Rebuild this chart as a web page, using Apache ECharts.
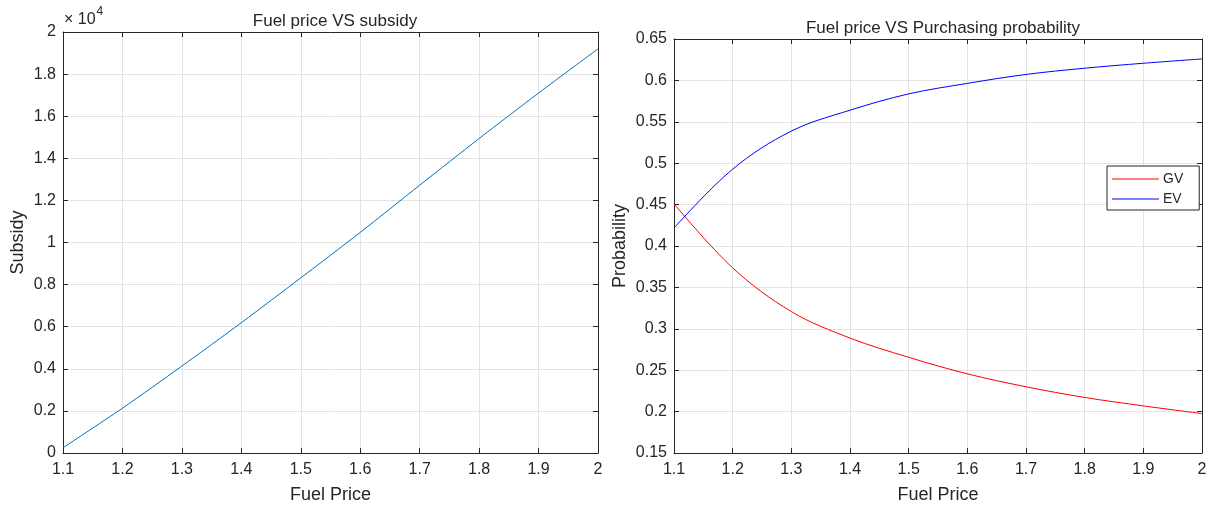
<!DOCTYPE html>
<html>
<head>
<meta charset="utf-8">
<script src="https://cdn.jsdelivr.net/npm/echarts@6/dist/echarts.min.js"></script>
<style>
    html, body {margin: 0; padding: 0; background: #fff;}
    #chart {width: 1210px; height: 509px;}
</style>
</head>
<body>
<div id="chart"></div>
<script>
// left panel: fuel price vs subsidy
const fuelPrice = [1.1, 1.2, 1.3, 1.4, 1.5, 1.6, 1.7, 1.8, 1.9, 2.0];
const subsidy = [250, 2130, 4130, 6190, 8320, 10480, 12720, 14940, 17100, 19200];

// right panel: fuel price vs purchasing probability
const gvProb = [0.451, 0.3736, 0.3208, 0.2888, 0.2656, 0.2456, 0.23, 0.2171, 0.2069, 0.1976];
const evProb = [0.4217, 0.4928, 0.5388, 0.564, 0.5837, 0.5964, 0.6072, 0.6147, 0.6207, 0.6259];

const font = 'Liberation Sans, Arial, sans-serif';
const ink = '#262626';
const pairs = (xs, ys) => xs.map((x, i) => [x, ys[i]]);
const trim = d => v => String(+v.toFixed(d));

const xAxisBase = (grid, pos) => ({
    type: 'value',
    gridIndex: grid,
    position: pos,
    min: 1.1,
    max: 2,
    interval: 0.1,
    axisLine: {show: true, onZero: false, lineStyle: {color: ink, width: 1}},
    axisTick: {show: true, inside: true, length: 5, lineStyle: {color: ink}},
    axisLabel: {show: pos === 'bottom', color: ink, fontFamily: font, fontSize: 16, margin: 9, formatter: trim(1)},
    splitLine: {show: pos === 'bottom', lineStyle: {color: '#e3e3e3', width: 1}},
    name: pos === 'bottom' ? 'Fuel Price' : '',
    nameLocation: 'middle',
    nameGap: 33,
    nameTextStyle: {color: ink, fontFamily: font, fontSize: 18},
});

const yAxisBase = (grid, pos, min, max, step, fmt, name, gap) => ({
    type: 'value',
    gridIndex: grid,
    position: pos,
    min: min,
    max: max,
    interval: step,
    axisLine: {show: true, onZero: false, lineStyle: {color: ink, width: 1}},
    axisTick: {show: true, inside: true, length: 5, lineStyle: {color: ink}},
    axisLabel: {show: pos === 'left', color: ink, fontFamily: font, fontSize: 16, margin: 7, formatter: fmt},
    splitLine: {show: pos === 'left', lineStyle: {color: '#e3e3e3', width: 1}},
    name: pos === 'left' ? name : '',
    nameLocation: 'middle',
    nameGap: gap,
    nameTextStyle: {color: ink, fontFamily: font, fontSize: 18},
});

const chart = echarts.init(document.getElementById('chart'), null, {renderer: 'canvas'});

chart.setOption({
    animation: false,
    backgroundColor: '#fff',
    color: ['#0072bd', '#ff0000', '#0000ff'],
    title: [
        {text: 'Fuel price VS subsidy', left: 330, top: 8, textAlign: 'center',
            textStyle: {color: ink, fontFamily: font, fontSize: 17, fontWeight: 'normal'}},
        {text: 'Fuel price VS Purchasing probability', left: 938, top: 15, textAlign: 'center',
            textStyle: {color: ink, fontFamily: font, fontSize: 17, fontWeight: 'normal'}},
    ],
    graphic: [{
        type: 'text',
        left: 64,
        top: 6,
        style: {
            text: '{a|× 10}{b|4}',
            rich: {
                a: {fontFamily: font, fontSize: 16, fill: ink, verticalAlign: 'bottom'},
                b: {fontFamily: font, fontSize: 12, fill: ink, verticalAlign: 'top', padding: [0, 0, 10, 1]},
            },
        },
    }],
    grid: [
        {left: 63, top: 32, width: 535, height: 422},
        {left: 674, top: 39, width: 528, height: 417},
    ],
    xAxis: [
        xAxisBase(0, 'bottom'),
        xAxisBase(0, 'top'),
        xAxisBase(1, 'bottom'),
        xAxisBase(1, 'top'),
    ],
    yAxis: [
        yAxisBase(0, 'left', 0, 20000, 2000, v => String(+(v / 10000).toFixed(1)), 'Subsidy', 36),
        yAxisBase(0, 'right', 0, 20000, 2000, null, '', 0),
        yAxisBase(1, 'left', 0.15, 0.65, 0.05, trim(2), 'Probability', 45),
        yAxisBase(1, 'right', 0.15, 0.65, 0.05, null, '', 0),
    ],
    legend: {
        data: [
            {name: 'GV', itemStyle: {color: '#ff0000'}},
            {name: 'EV', itemStyle: {color: '#0000ff'}},
        ],
        orient: 'vertical',
        left: 1107,
        top: 166,
        padding: [6, 16, 4, 5],
        itemGap: 6,
        itemWidth: 47,
        itemHeight: 1,
        icon: 'rect',
        borderColor: ink,
        borderWidth: 1,
        backgroundColor: '#fff',
        textStyle: {color: ink, fontFamily: font, fontSize: 14, padding: [0, 0, 0, -1]},
    },
    series: [
        {
            name: 'Subsidy',
            type: 'line',
            xAxisIndex: 0,
            yAxisIndex: 0,
            data: pairs(fuelPrice, subsidy),
            smooth: 0.3,
            showSymbol: false,
            lineStyle: {color: '#0072bd', width: 1},
            itemStyle: {color: '#0072bd'},
        },
        {
            name: 'GV',
            type: 'line',
            xAxisIndex: 2,
            yAxisIndex: 2,
            data: pairs(fuelPrice, gvProb),
            smooth: 0.35,
            showSymbol: false,
            lineStyle: {color: '#ff0000', width: 1},
            itemStyle: {color: '#ff0000'},
        },
        {
            name: 'EV',
            type: 'line',
            xAxisIndex: 2,
            yAxisIndex: 2,
            data: pairs(fuelPrice, evProb),
            smooth: 0.35,
            showSymbol: false,
            lineStyle: {color: '#0000ff', width: 1},
            itemStyle: {color: '#0000ff'},
        },
    ],
});
</script>
</body>
</html>
